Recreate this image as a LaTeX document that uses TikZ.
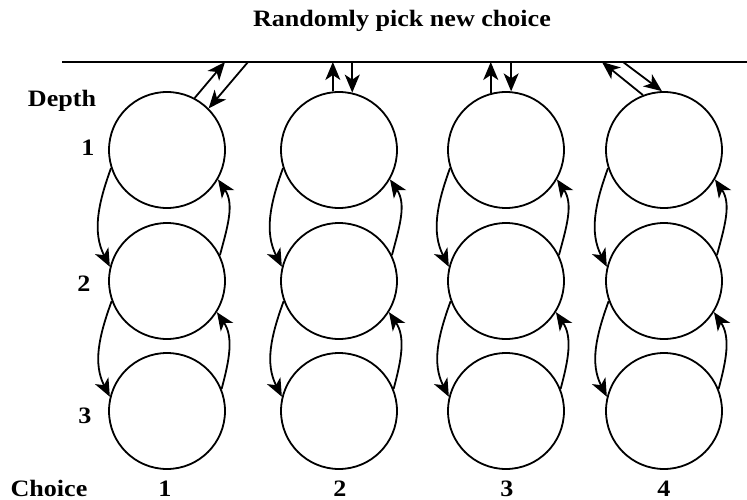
\documentclass[tikz,border=0pt]{standalone}
\usepackage{fontspec}
\usepackage{graphicx}
\setmainfont{Liberation Serif}
\usetikzlibrary{arrows.meta}
\newcommand{\widetext}[1]{\scalebox{1.11}[1]{#1}}
\tikzset{
  state/.style={circle, draw, line width=1.8pt, minimum size=116pt, inner sep=0pt},
  tip/.tip={Stealth[length=18pt,width=15pt,inset=5pt]},
  link/.style={line width=1.8pt, -tip},
  lbl/.style={font=\fontsize{23.5}{24}\selectfont\bfseries, inner sep=0pt, anchor=base},
}
\begin{document}
\begin{tikzpicture}[x=1pt,y=1pt]
\useasboundingbox (0,0) rectangle (747,-500);

% title and the shared bar
\node[lbl] (title) at (402,-27) {\widetext{Randomly pick new choice}};
\coordinate (barL) at (62,-62);
\coordinate (barR) at (747,-62);
\draw[line width=1.8pt] (barL) -- (barR);

% states: column = choice, row = depth
\foreach \c/\x in {1/167,2/339,3/506,4/664}{
  \foreach \r/\y in {1/150,2/281,3/411}{
    \node[state] (c\c\r) at (\x,-\y) {};
  }
}

% moves down and back up inside each column
\foreach \c in {1,2,3,4}{
  \draw[link] (c\c1.198) to[out=250,in=117] (c\c2.166);
  \draw[link] (c\c2.200) to[out=250,in=117] (c\c3.166);
  \draw[link] (c\c2.26) to[out=75,in=-56] (c\c1.330);
  \draw[link] (c\c3.22) to[out=75,in=-56] (c\c2.328);
}

% moves between a column and the bar
\coordinate (t1u) at (225,-62);
\coordinate (t1d) at (248,-62);
\draw[link] (c11.62) -- (t1u);
\draw[link] (t1d) -- (c11.45);

\draw[link] (c21.96) -- (c21.96 |- barL);
\draw[link] (c21.77 |- barL) -- (c21.77);

\draw[link] (c31.105) -- (c31.105 |- barL);
\draw[link] (c31.85 |- barL) -- (c31.85);

\coordinate (t4u) at (602,-62);
\coordinate (t4d) at (623,-62);
\draw[link] (c41.111) -- (t4u);
\draw[link] (t4d) -- (c41.92);

% depth labels
\node[lbl] (depth) at (62,-107) {\widetext{Depth}};
\node[lbl] (d1) at (88,-156) {\widetext{1}};
\node[lbl] (d2) at (84,-291) {\widetext{2}};
\node[lbl] (d3) at (85,-423) {\widetext{3}};

% choice labels
\node[lbl] (choice) at (49,-496) {\widetext{Choice}};
\node[lbl] (n1) at (165,-496) {\widetext{1}};
\node[lbl] (n2) at (340,-496) {\widetext{2}};
\node[lbl] (n3) at (507,-496) {\widetext{3}};
\node[lbl] (n4) at (664,-496) {\widetext{4}};
\end{tikzpicture}
\end{document}
